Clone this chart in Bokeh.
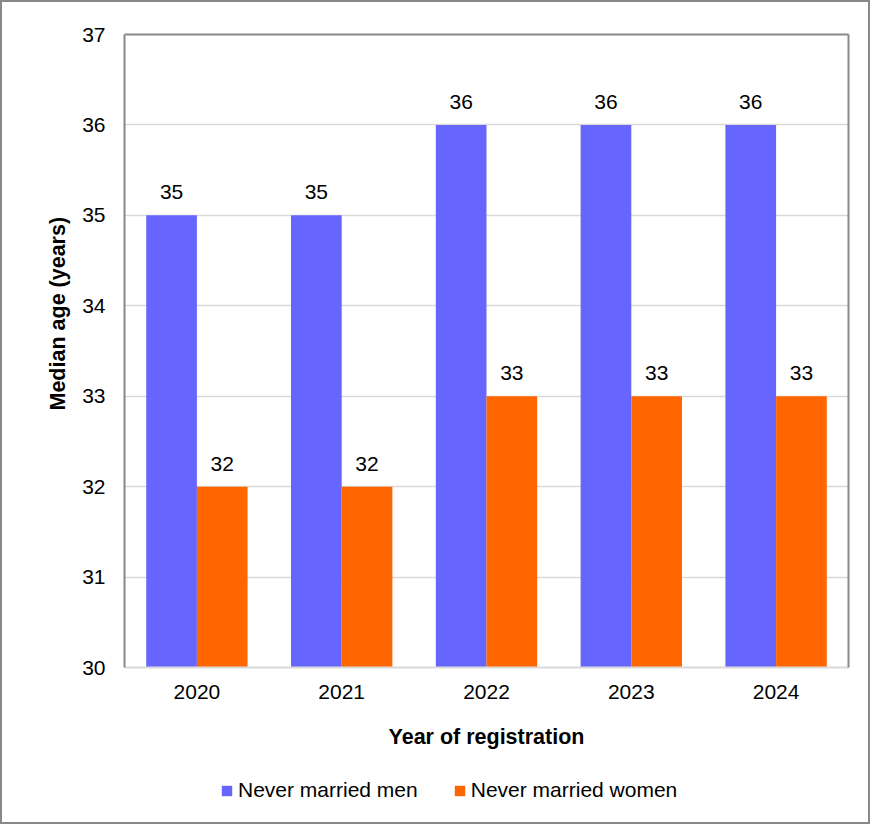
from bokeh.plotting import figure
from bokeh.layouts import column
from bokeh.models import (ColumnDataSource, FactorRange, Range1d, Legend, LegendItem,
                          Title, LinearAxis, CategoricalAxis, FixedTicker)
from bokeh.transform import dodge
from bokeh.core.properties import value
from bokeh.embed import file_html
from bokeh.resources import INLINE

years = ["2020", "2021", "2022", "2023", "2024"]
men = [35, 35, 36, 36, 36]
women = [32, 32, 33, 33, 33]
y_ticks = [30, 31, 32, 33, 34, 35, 36, 37]
series_names = ["Never married men", "Never married women"]

FONT = "Liberation Sans"
FS = "21px"
BLUE = "#6666FF"
ORANGE = "#FF6600"
FRAME = "#898989"

src = ColumnDataSource(dict(year=years, men=men, women=women,
                            men_lbl=[str(v) for v in men],
                            women_lbl=[str(v) for v in women]))

p = figure(x_range=FactorRange(*years), y_range=Range1d(30, 37),
           frame_width=724, frame_height=633, output_backend="svg", toolbar_location=None,
           min_border_left=122, min_border_top=32, min_border_right=20,
           min_border_bottom=90)

p.outline_line_color = None
p.background_fill_color = "white"
p.border_fill_color = "white"

bm = p.vbar(x=dodge("year", -0.175, range=p.x_range), top="men", bottom=30,
            width=0.35, source=src, fill_color=BLUE, line_color=None)
bw = p.vbar(x=dodge("year", 0.175, range=p.x_range), top="women", bottom=30,
            width=0.35, source=src, fill_color=ORANGE, line_color=None)

p.text(x=dodge("year", -0.175, range=p.x_range), y="men", text="men_lbl", source=src,
       text_align="center", text_baseline="bottom", y_offset=-16,
       text_font=value(FONT), text_font_size=FS, text_color="black")
p.text(x=dodge("year", 0.175, range=p.x_range), y="women", text="women_lbl", source=src,
       text_align="center", text_baseline="bottom", y_offset=-16,
       text_font=value(FONT), text_font_size=FS, text_color="black")

# grid
p.xgrid.grid_line_color = None
p.ygrid.grid_line_color = "#d9d9d9"
p.ygrid.grid_line_width = 1.5
p.yaxis.ticker = FixedTicker(ticks=y_ticks)

# y axis
p.yaxis.axis_line_color = FRAME
p.yaxis.axis_line_width = 2
p.yaxis.major_tick_line_color = None
p.yaxis.minor_tick_line_color = None
p.yaxis.major_label_standoff = 13
p.yaxis.major_label_text_font = FONT
p.yaxis.major_label_text_font_size = FS
p.yaxis.major_label_text_color = "black"

# x axis
p.xaxis.axis_line_color = "#d9d9d9"
p.xaxis.axis_line_width = 2
p.xaxis.major_tick_line_color = None
p.xaxis.minor_tick_line_color = None
p.xaxis.major_label_standoff = 11
p.xaxis.major_label_text_font = FONT
p.xaxis.major_label_text_font_size = FS
p.xaxis.major_label_text_color = "black"
p.xaxis.axis_label = "Year of registration"
p.xaxis.axis_label_text_font = FONT
p.xaxis.axis_label_text_font_size = "21.5px"
p.xaxis.axis_label_text_font_style = "bold"
p.xaxis.axis_label_text_color = "black"
p.xaxis.axis_label_standoff = 23

# frame edges top/right
ra = LinearAxis(ticker=FixedTicker(ticks=[]), axis_line_color=FRAME, axis_line_width=2,
                major_tick_line_color=None, minor_tick_line_color=None,
                major_label_text_font_size="0px")
p.add_layout(ra, "right")
ta = CategoricalAxis(axis_line_color=FRAME, axis_line_width=2,
                     major_tick_line_color=None, minor_tick_line_color=None,
                     major_label_text_font_size="0px", major_label_text_color=None)
p.add_layout(ta, "above")

# y axis title
yt = Title(text="Median age (years)", align="left", offset=257, standoff=19,
           text_font=FONT, text_font_size="21.5px", text_font_style="bold",
           text_color="black")
p.add_layout(yt, "left")

# legend strip (separate figure so the legend is not clipped by the plot frame)
lg = figure(width=866, height=65, x_range=Range1d(0, 1), y_range=Range1d(0, 1),
            output_backend="svg", toolbar_location=None,
            x_axis_location=None, y_axis_location=None,
            min_border=0, min_border_left=0, min_border_right=0,
            min_border_top=0, min_border_bottom=0)
lg.outline_line_color = None
lg.xgrid.grid_line_color = None
lg.ygrid.grid_line_color = None
lg.background_fill_color = "white"
lg.border_fill_color = "white"
# placeholder renderers (outside the visible range) that only supply legend swatches
swatch = ColumnDataSource(dict(x=[-5], top=[-5]))
lm = lg.vbar(x="x", top="top", bottom=-6, width=0.1, source=swatch,
             fill_color=BLUE, line_color=None)
lw = lg.vbar(x="x", top="top", bottom=-6, width=0.1, source=swatch,
             fill_color=ORANGE, line_color=None)

legend = Legend(items=[LegendItem(label=series_names[0], renderers=[lm]),
                       LegendItem(label=series_names[1], renderers=[lw])],
                orientation="horizontal", location=(96, 20),
                label_text_font=FONT, label_text_font_size=FS, label_text_color="black",
                glyph_width=13, glyph_height=13, label_standoff=5, spacing=35,
                padding=0, margin=0, border_line_color=None, background_fill_alpha=0)
lg.add_layout(legend)

layout = column(p, lg, spacing=0, styles={"border": "2px solid #898989"})

open("out.html", "w").write(file_html(layout, INLINE))
